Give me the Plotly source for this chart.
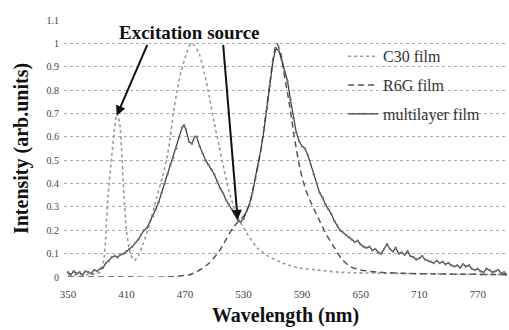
import plotly.graph_objects as go

# ---- data ----
c30_wl = [350, 370, 383, 387, 391, 395, 398, 400, 403, 405, 407, 410, 414, 418, 422, 427, 434, 441, 447,
          451, 455, 458, 462, 466, 471, 476, 480, 485, 490, 495, 500, 505, 510, 515, 520, 525, 530, 536,
          545, 555, 570, 585, 605, 630, 700, 800]
c30_int = [0.01, 0.01, 0.02, 0.08, 0.34, 0.52, 0.64, 0.70, 0.66, 0.55, 0.38, 0.20, 0.10, 0.07, 0.09, 0.14,
           0.23, 0.34, 0.43, 0.50, 0.60, 0.70, 0.80, 0.88, 0.95, 1.00, 0.99, 0.95, 0.87, 0.77, 0.66, 0.56,
           0.46, 0.37, 0.30, 0.25, 0.21, 0.17, 0.12, 0.09, 0.06, 0.04, 0.03, 0.02, 0.015, 0.01]

r6g_wl = [350, 400, 450, 475, 485, 495, 505, 512, 519, 525, 530, 536, 542, 548, 553, 557, 561, 564, 568,
          572, 577, 582, 588, 594, 600, 608, 615, 621, 630, 639, 650, 670, 700, 800]
r6g_int = [0.0, 0.0, 0.0, 0.01, 0.03, 0.06, 0.11, 0.16, 0.21, 0.24, 0.26, 0.31, 0.42, 0.55, 0.70, 0.83,
           0.95, 1.00, 0.96, 0.86, 0.74, 0.60, 0.46, 0.37, 0.31, 0.24, 0.18, 0.14, 0.08, 0.045, 0.03,
           0.02, 0.015, 0.01]

multi_wl = [350, 353, 356, 359, 362, 365, 368, 371, 374, 377, 380, 383, 386, 389, 392, 395, 398, 401, 404,
            407, 410, 413, 416, 419, 422, 425, 428, 431, 434, 437, 440, 443, 446, 449, 452, 455, 458, 461,
            464, 467, 469, 471, 474, 477, 480, 482, 485, 488, 491, 494, 497, 500, 503, 506, 509, 512, 515,
            518, 521, 524, 527, 530, 533, 536, 539, 542, 545, 548, 551, 554, 557, 560, 563, 566, 569, 572,
            575, 578, 581, 584, 587, 590, 593, 596, 599, 602, 605, 608, 611, 614, 617, 620, 623, 626, 629,
            632, 635, 638, 641, 644, 647, 650, 653, 656, 659, 662, 665, 668, 671, 674, 677, 680, 683, 686,
            689, 692, 695, 698, 701, 704, 707, 710, 713, 716, 719, 722, 725, 728, 731, 734, 737, 740, 743,
            746, 749, 752, 755, 758, 761, 764, 767, 770, 773, 776, 779, 782, 785, 788, 791, 794, 797, 800]
multi_int = [0.02, 0.01, 0.025, 0.015, 0.02, 0.01, 0.025, 0.02, 0.015, 0.03, 0.025, 0.035, 0.04, 0.06,
             0.07, 0.085, 0.09, 0.085, 0.095, 0.10, 0.11, 0.12, 0.13, 0.145, 0.16, 0.18, 0.20, 0.21, 0.235,
             0.26, 0.29, 0.32, 0.36, 0.40, 0.44, 0.48, 0.51, 0.55, 0.60, 0.64, 0.65, 0.63, 0.58, 0.57,
             0.60, 0.60, 0.56, 0.53, 0.50, 0.48, 0.46, 0.44, 0.41, 0.38, 0.36, 0.33, 0.31, 0.29, 0.27,
             0.245, 0.235, 0.25, 0.28, 0.31, 0.36, 0.42, 0.48, 0.55, 0.63, 0.72, 0.82, 0.92, 0.98, 0.97,
             0.93, 0.88, 0.84, 0.76, 0.68, 0.62, 0.58, 0.56, 0.55, 0.52, 0.48, 0.44, 0.40, 0.36, 0.34,
             0.31, 0.29, 0.27, 0.24, 0.22, 0.20, 0.19, 0.18, 0.17, 0.16, 0.15, 0.155, 0.14, 0.13, 0.125,
             0.13, 0.115, 0.12, 0.105, 0.10, 0.12, 0.14, 0.12, 0.11, 0.125, 0.10, 0.105, 0.095, 0.11,
             0.09, 0.085, 0.075, 0.08, 0.09, 0.075, 0.07, 0.065, 0.06, 0.07, 0.06, 0.065, 0.055, 0.06,
             0.05, 0.045, 0.05, 0.04, 0.055, 0.045, 0.05, 0.035, 0.03, 0.035, 0.025, 0.02, 0.035, 0.03,
             0.02, 0.025, 0.03, 0.015, 0.02, 0.01]

x_ticks = [350, 410, 470, 530, 590, 650, 710, 770]
y_ticks = [0, 0.1, 0.2, 0.3, 0.4, 0.5, 0.6, 0.7, 0.8, 0.9, 1.0, 1.1]

FONT = "Liberation Serif"

fig = go.Figure()
fig.add_trace(go.Scatter(x=c30_wl, y=c30_int, name="C30 film", mode="lines",
                         line=dict(color="#999999", width=1.6, dash="dot", shape="spline", smoothing=0.6),
                         legendgroup="a"))
fig.add_trace(go.Scatter(x=r6g_wl, y=r6g_int, name="R6G film", mode="lines",
                         line=dict(color="#555555", width=1.5, dash="6px,4px", shape="spline", smoothing=0.6),
                         legendgroup="b"))
fig.add_trace(go.Scatter(x=multi_wl, y=multi_int, name="multilayer film", mode="lines+markers",
                         line=dict(color="#3a3a3a", width=1.2),
                         marker=dict(size=2.5, color="#777777"),
                         legendgroup="c"))

fig.update_layout(
    width=509, height=330,
    margin=dict(l=64, r=2, t=20, b=53),
    paper_bgcolor="white", plot_bgcolor="white",
    font=dict(family=FONT, color="#222222"),
    showlegend=True,
    legend=dict(x=0.63, y=0.925, xanchor="left", yanchor="top",
                font=dict(family=FONT, size=16, color="#333333"),
                bgcolor="rgba(0,0,0,0)", tracegroupgap=5, itemwidth=30),
    xaxis=dict(range=[346, 800], tickvals=x_ticks, ticktext=[str(v) for v in x_ticks],
               showgrid=False, zeroline=False, showline=False,
               tickfont=dict(family=FONT, size=11, color="#444444"), ticks="",
               ticklabelstandoff=9,
               title=dict(text="<b>Wavelength (nm)</b>", font=dict(family=FONT, size=20, color="#111111"),
                          standoff=8)),
    yaxis=dict(range=[0, 1.1], tickvals=y_ticks, ticktext=[f"{v:g}" for v in y_ticks],
               showgrid=True, gridcolor="#aaaaaa", griddash="dot", gridwidth=1,
               zeroline=False, showline=False, ticks="",
               ticklabelstandoff=4,
               tickfont=dict(family=FONT, size=10, color="#444444"),
               title=dict(text="<b>Intensity (arb.units)</b>", font=dict(family=FONT, size=20, color="#111111"),
                          standoff=12)),
)

fig.add_annotation(x=475, y=1.045, xref="x", yref="y", yanchor="middle", xanchor="center",
                   text="<b>Excitation source</b>", showarrow=False,
                   font=dict(family=FONT, size=19, color="#111111"))
fig.add_annotation(x=400, y=0.69, ax=432, ay=1.0, xref="x", yref="y", axref="x", ayref="y",
                   text="", showarrow=True, arrowhead=2, arrowsize=1, arrowwidth=2, arrowcolor="#111111")
fig.add_annotation(x=524, y=0.245, ax=509, ay=1.0, xref="x", yref="y", axref="x", ayref="y",
                   text="", showarrow=True, arrowhead=2, arrowsize=1, arrowwidth=2, arrowcolor="#111111")

fig.write_html("out.html")
